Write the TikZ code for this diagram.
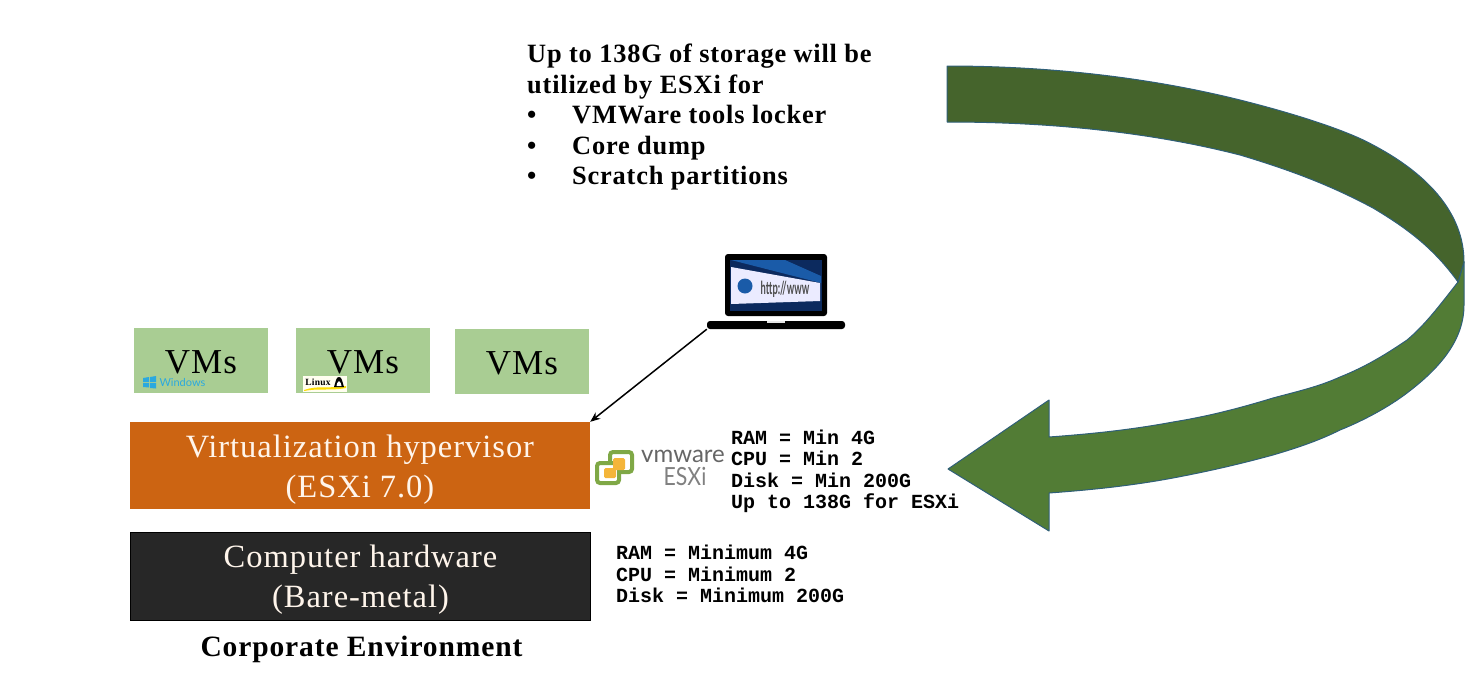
\documentclass[tikz,border=0pt]{standalone}
\usepackage{fontspec}
\setmainfont[LetterSpace=3]{Liberation Serif}
\setmonofont{Liberation Mono}
\setsansfont{Lato}
\usepackage{xcolor}
\usepackage{tikz}
\usetikzlibrary{positioning,calc,arrows.meta}
\definecolor{vmgreen}{HTML}{A9CD93}
\definecolor{hvorange}{HTML}{CC6412}
\definecolor{hwblack}{HTML}{272727}
\definecolor{arrowdark}{HTML}{45642C}
\definecolor{arrowlight}{HTML}{527C35}
\definecolor{arrowedge}{HTML}{2F5F78}
\definecolor{wincyan}{HTML}{2BA9DF}
\definecolor{vmwgreen}{HTML}{7FA846}
\definecolor{vmwyellow}{HTML}{F4B53A}
\definecolor{screendark}{HTML}{0C2A5E}
\definecolor{screenlight}{HTML}{1A5BA8}
\newcommand{\layerstrut}{\rule{0pt}{30pt}}
\begin{document}
\begin{tikzpicture}[
    x=1pt, y=-1pt,
    vmbox/.style={fill=vmgreen, minimum width=134pt, minimum height=65pt, inner sep=0pt, font=\fontsize{35}{38}\selectfont, execute at begin node={\rule{0pt}{26pt}}},
    layerbox/.style={minimum width=460pt, inner sep=0pt, align=center, text=white!92!orange, font=\fontsize{32.5}{40}\selectfont},
    spectext/.style={anchor=north west, inner sep=0pt, align=left, font=\ttfamily\bfseries\fontsize{20}{21.5}\selectfont},
    strip/.style={draw=arrowedge, line width=1pt, line join=round}
]
\useasboundingbox (0,0) rectangle (1484,694);

\node[vmbox] (vmone) at (201,360.5) {VMs};
\node[vmbox] (vmtwo) at (363,360.5) {VMs};
\node[vmbox] (vmthree) at (522,361.5) {VMs};

\node[layerbox, fill=hvorange, minimum height=87pt] (hypervisor) at (360,465.5) {\layerstrut Virtualization hypervisor\\(ESXi 7.0)};
\node[layerbox, fill=hwblack, draw=black, line width=1pt, minimum height=88pt] (hardware) at (360.5,576) {\layerstrut Computer hardware\\(Bare-metal)};
\node[font=\bfseries\fontsize{29.5}{32}\selectfont, inner sep=0pt] (corporate) at (361.5,649.5) {Corporate Environment};

\node[anchor=north west, inner sep=0pt, align=left, font=\bfseries\fontsize{26.4}{30.5}\selectfont] (storage) at (527,44) {Up to 138G of storage will be\\utilized by ESXi for\\\makebox[45pt][l]{\textbullet}VMWare tools locker\\\makebox[45pt][l]{\textbullet}Core dump\\\makebox[45pt][l]{\textbullet}Scratch partitions};

\node[spectext] (esxispec) at (731,429.5) {RAM = Min 4G\\CPU = Min 2\\Disk = Min 200G\\Up to 138G for ESXi};
\node[spectext] (hwspec) at (616,545) {RAM = Minimum 4G\\CPU = Minimum 2\\Disk = Minimum 200G};

\fill[wincyan] (143,378) -- (149,377) -- (149,382) -- (143,382) -- cycle
    (150,377) -- (156,376) -- (156,382) -- (150,382) -- cycle
    (143,383) -- (149,383) -- (149,387.5) -- (143,387) -- cycle
    (150,383) -- (156,383) -- (156,388.5) -- (150,388) -- cycle;
\node[font=\sffamily\fontsize{11}{12}\selectfont, text=wincyan, inner sep=0pt] (windows) at (182.5,382) {Windows};

\fill[white!94!yellow] (303,376) rectangle (347,392);
\fill[yellow!80!orange] (304,390) .. controls (318,385) and (330,389) .. (346,386) -- (346,388) .. controls (330,391) and (318,388) .. (304,391) -- cycle;
\node[font=\bfseries\fontsize{9.5}{10}\selectfont, inner sep=0pt] (linux) at (318,382) {Linux};
\fill[black] (339,377) .. controls (336,377) and (336,381) .. (334,387) -- (344,387) .. controls (342,381) and (342,377) .. (339,377) -- cycle;
\fill[white] (339,381) .. controls (337,382) and (337,384) .. (336.5,386) -- (341.5,386) .. controls (341,384) and (341,382) .. (339,381) -- cycle;

\fill[black, rounded corners=3pt] (725,254) rectangle (827,316);
\node[fill=black, rounded corners=3pt, minimum width=138pt, minimum height=8pt, inner sep=0pt] (laptop) at (776,325) {};
\fill[white!90!black] (767,321) rectangle (785,322.5);
\fill[screendark] (730,260) rectangle (822,311);
\fill[screenlight] (731,260) -- (785,260) -- (821,276) -- (821,283) -- cycle;
\fill[white!92!blue] (731,267) -- (820,283) -- (820,301) -- (731,304) -- cycle;
\fill[screenlight] (745,286) circle (7.5pt);
\node[xscale=.52, font=\sffamily\bfseries\fontsize{18}{20}\selectfont, text=black!70, inner sep=0pt] (url) at (785,289) {http://www};

\draw[-{Stealth[length=10pt,width=8pt]}, line width=1.5pt] (laptop.south west) -- (hypervisor.north east);

\draw[vmwgreen, line width=4pt, fill=white, rounded corners=3pt] (610,452) rectangle (632,472);
\draw[vmwgreen, line width=4pt, fill=white, rounded corners=3pt] (597,463) rectangle (619,483);
\fill[vmwyellow, rounded corners=1.5pt] (613,458) rectangle (625,470);
\fill[vmwyellow, rounded corners=1.5pt] (604,468) rectangle (616,478);
\node[font=\sffamily\fontsize{24}{24}\selectfont, text=black!60, inner sep=0pt] (vmware) at (683,456) {vmware};
\node[xscale=.85, font=\sffamily\fontsize{25}{25}\selectfont, text=black!50, inner sep=0pt] (esxilogo) at (685,476) {ESXi};

\filldraw[strip, fill=arrowlight] (1458,282)
    .. controls (1440,305) and (1425,325) .. (1407,340)
    .. controls (1385,355) and (1365,367) .. (1340,377)
    .. controls (1318,387) and (1295,392) .. (1273,398)
    .. controls (1240,408) and (1210,416) .. (1173,422)
    .. controls (1130,430) and (1090,434) .. (1049,437)
    -- (1049,400) -- (948,469) -- (1049,531) -- (1049,493)
    .. controls (1090,490) and (1130,486) .. (1173,478)
    .. controls (1210,471) and (1240,464) .. (1273,455)
    .. controls (1300,447) and (1320,440) .. (1340,430)
    .. controls (1365,420) and (1390,406) .. (1407,393)
    .. controls (1440,368) and (1464,340) .. (1464,305)
    -- (1464,262) -- cycle;
\filldraw[strip, fill=arrowdark] (947,66)
    .. controls (1060,66) and (1160,80) .. (1240,100)
    .. controls (1300,115) and (1350,132) .. (1373,145)
    .. controls (1430,175) and (1464,215) .. (1464,262)
    -- (1458,282)
    .. controls (1435,250) and (1410,230) .. (1373,208)
    .. controls (1330,185) and (1290,170) .. (1240,155)
    .. controls (1150,132) and (1050,122) .. (947,122)
    -- cycle;
\end{tikzpicture}
\end{document}
